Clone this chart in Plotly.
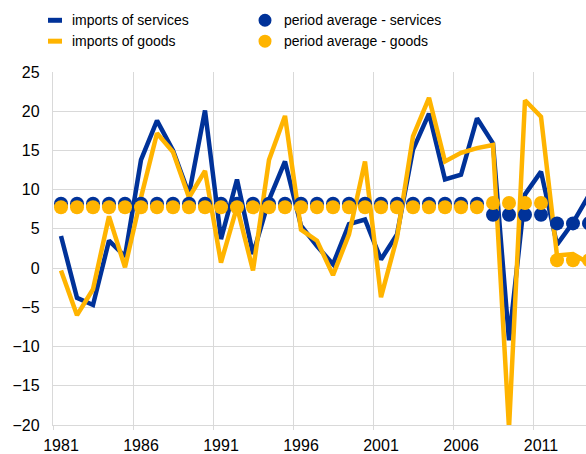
import plotly.graph_objects as go

years = list(range(1981, 2015))
services = [4.1, -3.8, -4.7, 3.5, 1.5, 13.8, 18.8, 15.0, 9.4, 20.1,
            3.7, 11.3, 1.8, 8.7, 13.6, 5.4, 2.8, 0.5, 5.6, 6.2,
            1.1, 4.3, 15.1, 19.7, 11.3, 11.9, 19.1, 15.9, -9.2, 9.4,
            12.3, 3.0, 5.8, 9.3]
goods = [-0.3, -6.0, -2.7, 6.6, 0.1, 9.0, 17.2, 14.8, 9.0, 12.4,
         0.7, 7.8, -0.3, 13.8, 19.4, 4.9, 3.5, -0.9, 4.3, 13.6,
         -3.7, 3.9, 16.8, 21.7, 13.6, 14.7, 15.3, 15.7, -20.4, 21.4,
         19.3, 1.6, 1.8, 0.6]
avg_services = [8.2] * 27 + [6.8] * 4 + [5.7] * 3
avg_goods = [7.75] * 27 + [8.3] * 4 + [1.0] * 3

xticks = [1981, 1986, 1991, 1996, 2001, 2006, 2011]
yticks = [-20, -15, -10, -5, 0, 5, 10, 15, 20, 25]

BLUE = "#003299"
YELLOW = "#FFB400"
GRID = "#d9d9d9"
FONT = "Arial, Liberation Sans, sans-serif"

fig = go.Figure()
fig.add_trace(go.Scatter(x=years, y=services, mode="lines",
                         line=dict(color=BLUE, width=4.5), name="imports of services"))
fig.add_trace(go.Scatter(x=years, y=goods, mode="lines",
                         line=dict(color=YELLOW, width=4.5), name="imports of goods"))
fig.add_trace(go.Scatter(x=years, y=avg_services, mode="markers",
                         marker=dict(color=BLUE, size=14), name="period average - services"))
fig.add_trace(go.Scatter(x=years, y=avg_goods, mode="markers",
                         marker=dict(color=YELLOW, size=14), name="period average - goods"))

# plot area in page pixels
FW, FH = 586, 454
L, R, T, B = 53, 586, 72, 427
W, H = R - L, B - T
def px(x):
    return (x - L) / W
def py(y):
    return (B - y) / H

shapes = []
annotations = []
legend_items = [
    ("line", BLUE, 48, 20, "imports of services"),
    ("line", YELLOW, 48, 41, "imports of goods"),
    ("dot", BLUE, 265, 20, "period average - services"),
    ("dot", YELLOW, 265, 41, "period average - goods"),
]
for kind, col, x0, yc, label in legend_items:
    if kind == "line":
        shapes.append(dict(type="rect", xref="paper", yref="paper",
                           x0=px(x0), x1=px(x0 + 14), y0=py(yc + 2.5), y1=py(yc - 2.5),
                           fillcolor=col, line=dict(width=0)))
        tx = 70
    else:
        shapes.append(dict(type="circle", xref="paper", yref="paper",
                           x0=px(x0 - 6.5), x1=px(x0 + 6.5), y0=py(yc + 6.5), y1=py(yc - 6.5),
                           fillcolor=col, line=dict(width=0)))
        tx = 282
    annotations.append(dict(xref="paper", yref="paper", x=px(tx), y=py(yc),
                            xanchor="left", yanchor="middle", showarrow=False,
                            text=label, font=dict(size=14, color="#000000", family=FONT)))

fig.update_layout(
    width=FW, height=FH,
    margin=dict(l=L, r=0, t=T, b=FH - B, pad=0),
    plot_bgcolor="white", paper_bgcolor="white",
    showlegend=False, hovermode=False,
    font=dict(family=FONT, size=16, color="#000000"),
    shapes=shapes, annotations=annotations,
)
fig.update_xaxes(
    range=[1980.5, 1980.5 + W / 16.0],
    tickmode="array", tickvals=xticks, ticktext=[str(v) for v in xticks],
    showgrid=False, ticks="", ticklabelstandoff=6,
    minor=dict(tick0=1980.5, dtick=5, showgrid=True, gridcolor=GRID, gridwidth=1.3,
               ticks="outside", ticklen=4, tickcolor=GRID),
    showline=True, linecolor=GRID, linewidth=1.3,
    tickfont=dict(size=16),
)
fig.update_yaxes(
    range=[-20, 25], tickmode="array", tickvals=yticks,
    showgrid=True, gridcolor=GRID, gridwidth=1.3, zeroline=False,
    showline=True, linecolor=GRID, linewidth=1.3,
    ticks="", ticklabelstandoff=9,
    tickfont=dict(size=16),
)

fig.write_html(
    "out.html",
    config={"displayModeBar": False},
    post_script="document.body.style.margin='0';document.body.style.overflow='hidden';",
)
